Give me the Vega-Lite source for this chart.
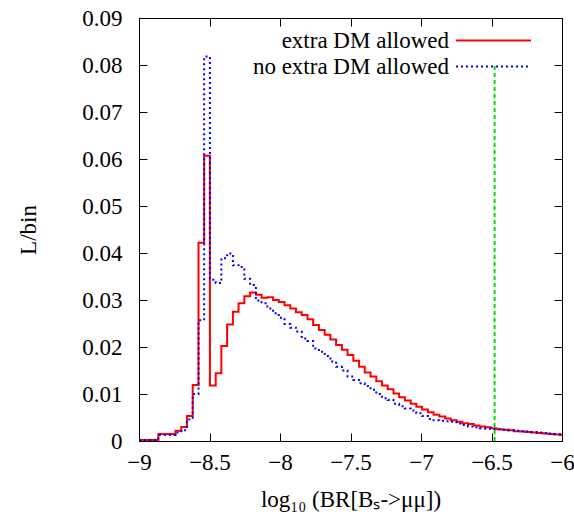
{
  "$schema": "https://vega.github.io/schema/vega-lite/v6.json",
  "width": 423,
  "height": 423,
  "autosize": {"type": "none"},
  "padding": {"left": 139, "top": 18, "right": 12, "bottom": 78},
  "background": "white",
  "config": {
    "font": "Liberation Serif",
    "view": {"stroke": "black", "strokeWidth": 1},
    "axis": {
      "grid": false, "domainColor": "black", "domainWidth": 1, "tickColor": "black", "tickWidth": 1,
      "tickSize": -8, "labelColor": "black", "titleColor": "black",
      "labelFont": "Liberation Serif", "titleFont": "Liberation Serif",
      "labelFontSize": 23, "titleFontSize": 23, "titleFontWeight": "normal", "labelOverlap": false
    }
  },
  "datasets": {
    "hist": [
      {"series": "extra DM allowed", "x": -9.000, "y": 0.0002},
      {"series": "extra DM allowed", "x": -8.944, "y": 0.0002},
      {"series": "extra DM allowed", "x": -8.904, "y": 0.0002},
      {"series": "extra DM allowed", "x": -8.863, "y": 0.0015},
      {"series": "extra DM allowed", "x": -8.822, "y": 0.0015},
      {"series": "extra DM allowed", "x": -8.782, "y": 0.0015},
      {"series": "extra DM allowed", "x": -8.741, "y": 0.0022},
      {"series": "extra DM allowed", "x": -8.700, "y": 0.0030},
      {"series": "extra DM allowed", "x": -8.660, "y": 0.0053},
      {"series": "extra DM allowed", "x": -8.619, "y": 0.0119},
      {"series": "extra DM allowed", "x": -8.578, "y": 0.0422},
      {"series": "extra DM allowed", "x": -8.538, "y": 0.0607},
      {"series": "extra DM allowed", "x": -8.497, "y": 0.0118},
      {"series": "extra DM allowed", "x": -8.456, "y": 0.0144},
      {"series": "extra DM allowed", "x": -8.416, "y": 0.0202},
      {"series": "extra DM allowed", "x": -8.375, "y": 0.0248},
      {"series": "extra DM allowed", "x": -8.334, "y": 0.0275},
      {"series": "extra DM allowed", "x": -8.294, "y": 0.0293},
      {"series": "extra DM allowed", "x": -8.253, "y": 0.0308},
      {"series": "extra DM allowed", "x": -8.212, "y": 0.0316},
      {"series": "extra DM allowed", "x": -8.171, "y": 0.0311},
      {"series": "extra DM allowed", "x": -8.131, "y": 0.0305},
      {"series": "extra DM allowed", "x": -8.090, "y": 0.0306},
      {"series": "extra DM allowed", "x": -8.049, "y": 0.0300},
      {"series": "extra DM allowed", "x": -8.009, "y": 0.0296},
      {"series": "extra DM allowed", "x": -7.968, "y": 0.0289},
      {"series": "extra DM allowed", "x": -7.927, "y": 0.0282},
      {"series": "extra DM allowed", "x": -7.887, "y": 0.0274},
      {"series": "extra DM allowed", "x": -7.846, "y": 0.0268},
      {"series": "extra DM allowed", "x": -7.805, "y": 0.0259},
      {"series": "extra DM allowed", "x": -7.765, "y": 0.0247},
      {"series": "extra DM allowed", "x": -7.724, "y": 0.0236},
      {"series": "extra DM allowed", "x": -7.683, "y": 0.0226},
      {"series": "extra DM allowed", "x": -7.643, "y": 0.0216},
      {"series": "extra DM allowed", "x": -7.602, "y": 0.0204},
      {"series": "extra DM allowed", "x": -7.561, "y": 0.0194},
      {"series": "extra DM allowed", "x": -7.521, "y": 0.0183},
      {"series": "extra DM allowed", "x": -7.480, "y": 0.0171},
      {"series": "extra DM allowed", "x": -7.439, "y": 0.0158},
      {"series": "extra DM allowed", "x": -7.399, "y": 0.0146},
      {"series": "extra DM allowed", "x": -7.358, "y": 0.0137},
      {"series": "extra DM allowed", "x": -7.317, "y": 0.0127},
      {"series": "extra DM allowed", "x": -7.277, "y": 0.0118},
      {"series": "extra DM allowed", "x": -7.236, "y": 0.0110},
      {"series": "extra DM allowed", "x": -7.195, "y": 0.0101},
      {"series": "extra DM allowed", "x": -7.155, "y": 0.0093},
      {"series": "extra DM allowed", "x": -7.114, "y": 0.0086},
      {"series": "extra DM allowed", "x": -7.073, "y": 0.0079},
      {"series": "extra DM allowed", "x": -7.033, "y": 0.0073},
      {"series": "extra DM allowed", "x": -6.992, "y": 0.0067},
      {"series": "extra DM allowed", "x": -6.951, "y": 0.0061},
      {"series": "extra DM allowed", "x": -6.911, "y": 0.0056},
      {"series": "extra DM allowed", "x": -6.870, "y": 0.0052},
      {"series": "extra DM allowed", "x": -6.829, "y": 0.0048},
      {"series": "extra DM allowed", "x": -6.789, "y": 0.0044},
      {"series": "extra DM allowed", "x": -6.748, "y": 0.0041},
      {"series": "extra DM allowed", "x": -6.707, "y": 0.0038},
      {"series": "extra DM allowed", "x": -6.667, "y": 0.0036},
      {"series": "extra DM allowed", "x": -6.626, "y": 0.0033},
      {"series": "extra DM allowed", "x": -6.585, "y": 0.0031},
      {"series": "extra DM allowed", "x": -6.545, "y": 0.0029},
      {"series": "extra DM allowed", "x": -6.504, "y": 0.0027},
      {"series": "extra DM allowed", "x": -6.463, "y": 0.0025},
      {"series": "extra DM allowed", "x": -6.423, "y": 0.0024},
      {"series": "extra DM allowed", "x": -6.382, "y": 0.0023},
      {"series": "extra DM allowed", "x": -6.341, "y": 0.0021},
      {"series": "extra DM allowed", "x": -6.301, "y": 0.0020},
      {"series": "extra DM allowed", "x": -6.260, "y": 0.0019},
      {"series": "extra DM allowed", "x": -6.219, "y": 0.0018},
      {"series": "extra DM allowed", "x": -6.179, "y": 0.0017},
      {"series": "extra DM allowed", "x": -6.138, "y": 0.0016},
      {"series": "extra DM allowed", "x": -6.097, "y": 0.0015},
      {"series": "extra DM allowed", "x": -6.057, "y": 0.0014},
      {"series": "extra DM allowed", "x": -6.016, "y": 0.0013},
      {"series": "extra DM allowed", "x": -6.000, "y": 0.0013},
      {"series": "no extra DM allowed", "x": -9.000, "y": 0.0002},
      {"series": "no extra DM allowed", "x": -8.944, "y": 0.0002},
      {"series": "no extra DM allowed", "x": -8.904, "y": 0.0002},
      {"series": "no extra DM allowed", "x": -8.863, "y": 0.0013},
      {"series": "no extra DM allowed", "x": -8.822, "y": 0.0013},
      {"series": "no extra DM allowed", "x": -8.782, "y": 0.0013},
      {"series": "no extra DM allowed", "x": -8.741, "y": 0.0018},
      {"series": "no extra DM allowed", "x": -8.700, "y": 0.0023},
      {"series": "no extra DM allowed", "x": -8.660, "y": 0.0046},
      {"series": "no extra DM allowed", "x": -8.619, "y": 0.0100},
      {"series": "no extra DM allowed", "x": -8.578, "y": 0.0257},
      {"series": "no extra DM allowed", "x": -8.538, "y": 0.0818},
      {"series": "no extra DM allowed", "x": -8.497, "y": 0.0343},
      {"series": "no extra DM allowed", "x": -8.456, "y": 0.0336},
      {"series": "no extra DM allowed", "x": -8.416, "y": 0.0389},
      {"series": "no extra DM allowed", "x": -8.375, "y": 0.0399},
      {"series": "no extra DM allowed", "x": -8.334, "y": 0.0374},
      {"series": "no extra DM allowed", "x": -8.294, "y": 0.0370},
      {"series": "no extra DM allowed", "x": -8.253, "y": 0.0345},
      {"series": "no extra DM allowed", "x": -8.212, "y": 0.0332},
      {"series": "no extra DM allowed", "x": -8.171, "y": 0.0299},
      {"series": "no extra DM allowed", "x": -8.131, "y": 0.0293},
      {"series": "no extra DM allowed", "x": -8.090, "y": 0.0282},
      {"series": "no extra DM allowed", "x": -8.049, "y": 0.0272},
      {"series": "no extra DM allowed", "x": -8.009, "y": 0.0262},
      {"series": "no extra DM allowed", "x": -7.968, "y": 0.0249},
      {"series": "no extra DM allowed", "x": -7.927, "y": 0.0241},
      {"series": "no extra DM allowed", "x": -7.887, "y": 0.0233},
      {"series": "no extra DM allowed", "x": -7.846, "y": 0.0218},
      {"series": "no extra DM allowed", "x": -7.805, "y": 0.0213},
      {"series": "no extra DM allowed", "x": -7.765, "y": 0.0197},
      {"series": "no extra DM allowed", "x": -7.724, "y": 0.0190},
      {"series": "no extra DM allowed", "x": -7.683, "y": 0.0181},
      {"series": "no extra DM allowed", "x": -7.643, "y": 0.0169},
      {"series": "no extra DM allowed", "x": -7.602, "y": 0.0158},
      {"series": "no extra DM allowed", "x": -7.561, "y": 0.0150},
      {"series": "no extra DM allowed", "x": -7.521, "y": 0.0137},
      {"series": "no extra DM allowed", "x": -7.480, "y": 0.0130},
      {"series": "no extra DM allowed", "x": -7.439, "y": 0.0123},
      {"series": "no extra DM allowed", "x": -7.399, "y": 0.0117},
      {"series": "no extra DM allowed", "x": -7.358, "y": 0.0109},
      {"series": "no extra DM allowed", "x": -7.317, "y": 0.0100},
      {"series": "no extra DM allowed", "x": -7.277, "y": 0.0091},
      {"series": "no extra DM allowed", "x": -7.236, "y": 0.0087},
      {"series": "no extra DM allowed", "x": -7.195, "y": 0.0079},
      {"series": "no extra DM allowed", "x": -7.155, "y": 0.0074},
      {"series": "no extra DM allowed", "x": -7.114, "y": 0.0069},
      {"series": "no extra DM allowed", "x": -7.073, "y": 0.0065},
      {"series": "no extra DM allowed", "x": -7.033, "y": 0.0059},
      {"series": "no extra DM allowed", "x": -6.992, "y": 0.0053},
      {"series": "no extra DM allowed", "x": -6.951, "y": 0.0047},
      {"series": "no extra DM allowed", "x": -6.911, "y": 0.0044},
      {"series": "no extra DM allowed", "x": -6.870, "y": 0.0043},
      {"series": "no extra DM allowed", "x": -6.829, "y": 0.0042},
      {"series": "no extra DM allowed", "x": -6.789, "y": 0.0041},
      {"series": "no extra DM allowed", "x": -6.748, "y": 0.0037},
      {"series": "no extra DM allowed", "x": -6.707, "y": 0.0034},
      {"series": "no extra DM allowed", "x": -6.667, "y": 0.0031},
      {"series": "no extra DM allowed", "x": -6.626, "y": 0.0029},
      {"series": "no extra DM allowed", "x": -6.585, "y": 0.0027},
      {"series": "no extra DM allowed", "x": -6.545, "y": 0.0026},
      {"series": "no extra DM allowed", "x": -6.504, "y": 0.0025},
      {"series": "no extra DM allowed", "x": -6.463, "y": 0.0025},
      {"series": "no extra DM allowed", "x": -6.423, "y": 0.0024},
      {"series": "no extra DM allowed", "x": -6.382, "y": 0.0023},
      {"series": "no extra DM allowed", "x": -6.341, "y": 0.0022},
      {"series": "no extra DM allowed", "x": -6.301, "y": 0.0021},
      {"series": "no extra DM allowed", "x": -6.260, "y": 0.0020},
      {"series": "no extra DM allowed", "x": -6.219, "y": 0.0019},
      {"series": "no extra DM allowed", "x": -6.179, "y": 0.0018},
      {"series": "no extra DM allowed", "x": -6.138, "y": 0.0017},
      {"series": "no extra DM allowed", "x": -6.097, "y": 0.0016},
      {"series": "no extra DM allowed", "x": -6.057, "y": 0.0015},
      {"series": "no extra DM allowed", "x": -6.016, "y": 0.0015},
      {"series": "no extra DM allowed", "x": -6.000, "y": 0.0015}
    ],
    "limit": [{"x": -6.478, "y": 0, "y2": 0.08}]
  },
  "layer": [
    {
      "data": {"name": "hist"},
      "mark": {"type": "line", "interpolate": "step-after", "clip": true, "strokeWidth": 2},
      "encoding": {
        "x": {
          "field": "x", "type": "quantitative",
          "scale": {"domain": [-9, -6], "nice": false, "zero": false},
          "axis": {
            "orient": "bottom", "values": [-9, -8.5, -8, -7.5, -7, -6.5, -6], "format": "~g",
            "labelFlush": false, "labelPadding": 18, "labelFont": "Liberation Serif",
            "title": "log₁₀ (BR[Bₛ->μμ])", "titlePadding": 14
          }
        },
        "y": {
          "field": "y", "type": "quantitative",
          "scale": {"domain": [0, 0.09], "nice": false},
          "axis": {
            "orient": "left", "values": [0, 0.01, 0.02, 0.03, 0.04, 0.05, 0.06, 0.07, 0.08, 0.09],
            "format": ".2~f", "labelPadding": 25, "labelFlush": false, "labelFont": "Liberation Serif",
            "title": "L/bin", "titlePadding": 41
          }
        },
        "color": {
          "field": "series", "type": "nominal",
          "scale": {"domain": ["extra DM allowed", "no extra DM allowed"], "range": ["#ff0000", "#0000ff"]},
          "legend": {
            "title": null, "orient": "none", "legendX": 341, "legendY": 9,
            "symbolType": "M-3,0H3", "symbolSize": 625, "symbolStrokeWidth": 2,
            "labelAlign": "right", "labelOffset": -58, "labelFontSize": 23,
            "labelFont": "Liberation Serif", "labelColor": "black", "labelLimit": 0,
            "padding": 0, "rowPadding": 0
          }
        },
        "strokeDash": {
          "field": "series", "type": "nominal",
          "scale": {"domain": ["extra DM allowed", "no extra DM allowed"], "range": [[1, 0], [2, 3]]},
          "legend": {
            "title": null, "orient": "none", "legendX": 341, "legendY": 9,
            "symbolType": "M-3,0H3", "symbolSize": 625, "symbolStrokeWidth": 2,
            "labelAlign": "right", "labelOffset": -58, "labelFontSize": 23,
            "labelFont": "Liberation Serif", "labelColor": "black", "labelLimit": 0,
            "padding": 0, "rowPadding": 0
          }
        }
      }
    },
    {
      "data": {"name": "limit"},
      "mark": {"type": "rule", "color": "#00e000", "strokeWidth": 2, "strokeDash": [4, 3]},
      "encoding": {
        "x": {
          "field": "x", "type": "quantitative",
          "scale": {"domain": [-9, -6], "nice": false, "zero": false},
          "axis": {"orient": "top", "values": [-9, -8.5, -8, -7.5, -7, -6.5, -6], "labels": false, "title": null}
        },
        "y": {
          "field": "y", "type": "quantitative",
          "scale": {"domain": [0, 0.09], "nice": false},
          "axis": {"orient": "right", "values": [0, 0.01, 0.02, 0.03, 0.04, 0.05, 0.06, 0.07, 0.08, 0.09], "labels": false, "title": null}
        },
        "y2": {"field": "y2"}
      }
    }
  ],
  "resolve": {"axis": {"x": "independent", "y": "independent"}}
}
